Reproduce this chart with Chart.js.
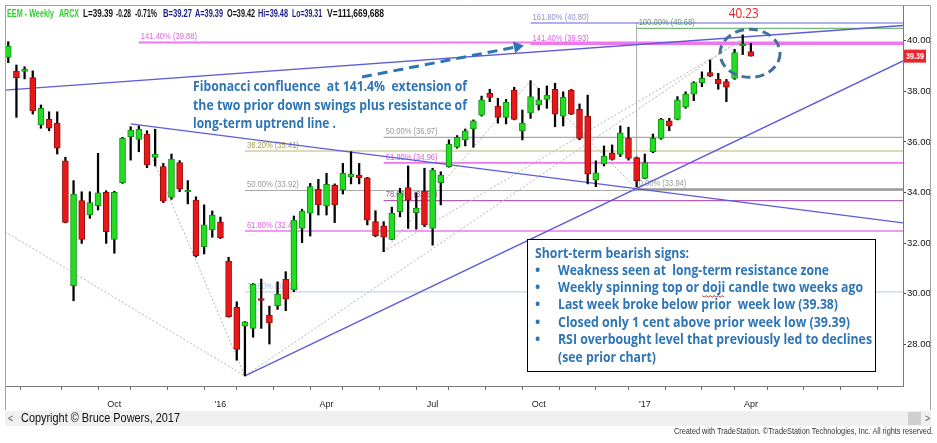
<!DOCTYPE html>
<html><head><meta charset="utf-8">
<script src="https://cdn.jsdelivr.net/npm/chart.js@4.4.1/dist/chart.umd.min.js"></script>
<style>html,body{margin:0;padding:0;background:#fff;overflow:hidden}#wrap{position:relative;width:937px;height:443px}</style>
</head><body><div id="wrap"><canvas id="c" width="937" height="443"></canvas></div>
<script>
// ---- DATA (weekly EEM candles, index 0 = week of 6 Jul 2015 ... 91 = week of 3 Apr 2017) ----
const opens  = [39.34,38.80,38.79,38.54,36.67,36.89,36.74,35.25,30.32,33.68, 33.11,33.48,34.01,32.15,34.39,36.21,36.10,36.31,35.39,35.02, 33.81,35.18,34.02,33.70,31.86,32.52,32.83,31.29,29.46,28.72, 28.63,29.78,29.16,29.53,30.57,30.15,32.58,33.18,34.13,33.47, 34.28,34.10,34.62,34.69,34.58,32.85,32.68,32.15,33.24,34.19, 33.20,34.06,32.58,34.39,35.02,35.79,36.08,36.51,37.06,37.92, 37.42,36.97,38.05,36.43,37.15,37.46,37.68,38.08,37.02,38.05, 37.29,37.02,34.49,35.13,35.57,35.51,36.14,35.38,34.56,35.61, 36.14,36.83,36.89,37.37,37.89,38.34,38.74,38.47,38.38,38.51, 39.80,39.57];
const highs  = [39.96,39.04,38.97,38.81,37.46,37.19,37.19,35.39,34.47,34.03, 34.03,35.55,34.07,34.05,36.18,36.60,36.63,36.44,36.50,35.15, 35.52,35.26,34.47,33.83,33.51,33.27,33.03,31.44,29.68,28.90, 30.40,30.58,29.51,30.47,30.87,33.07,33.34,34.36,34.52,34.76, 34.34,35.15,35.61,35.15,34.60,33.28,32.85,33.42,34.17,35.05, 33.99,34.96,34.96,34.82,36.08,36.25,36.51,36.87,37.81,38.08, 37.72,37.68,38.16,37.26,38.42,38.12,38.21,38.32,37.98,38.08, 37.50,37.85,35.25,35.84,35.88,36.63,36.58,35.40,35.52,36.31, 36.93,36.93,37.79,37.98,38.38,38.77,39.24,38.71,38.47,39.66, 40.23,39.90];
const lows   = [39.13,36.97,38.49,37.10,36.54,36.44,35.52,32.80,29.72,31.99, 32.98,33.31,31.99,31.60,34.36,35.28,35.61,34.98,35.05,33.60, 33.73,34.03,33.55,31.45,31.57,32.23,32.18,29.07,27.37,26.75, 28.28,28.63,28.01,29.38,29.33,30.08,32.02,32.28,33.11,33.11, 32.81,33.94,34.34,34.34,32.72,32.25,31.66,32.13,33.04,32.58, 32.55,32.65,31.92,33.51,35.00,35.75,35.84,35.79,37.02,37.59, 36.74,36.71,36.87,36.08,36.93,37.26,37.33,36.60,36.63,37.08, 36.08,34.34,34.23,35.05,35.28,35.42,35.28,34.23,34.54,35.57, 36.10,36.44,36.87,37.33,37.63,38.18,38.58,38.08,37.59,38.47, 39.45,39.39];
const closes = [39.79,38.54,38.84,37.23,37.33,36.54,35.75,32.82,33.94,32.15, 33.60,33.99,32.45,34.01,36.14,36.47,36.50,35.09,35.52,33.66, 35.32,34.13,34.06,31.49,32.72,33.11,32.20,29.09,27.80,28.89, 30.37,29.73,28.85,29.98,29.78,32.91,33.27,34.23,33.51,34.32, 33.51,34.76,34.73,34.58,32.91,32.29,32.23,33.18,33.99,33.70, 33.38,32.72,34.89,34.69,35.91,36.18,36.44,36.83,37.66,37.76, 36.97,37.57,36.89,36.74,37.79,37.66,37.85,37.10,37.76,37.10, 36.14,34.72,34.78,35.44,35.31,36.36,35.35,34.47,35.18,36.14, 36.89,36.63,37.66,37.89,38.34,38.51,38.60,38.29,38.16,39.53, 39.83,39.39];

const yTicks = [28,30,32,34,36,38,40];
const monthTicks = [4,9,13,17,22,26,30,35,39,43,48,52,56,61,65,70,74,78,83,87,91,95,100,104,109];
const quarterTicks = [13,26,39,52,65,78,91];
const quarterLabels = ["Oct","'16","Apr","Jul","Oct","'17","Apr"];

// Fibonacci levels (price value, start week index, label)
const fibLabels = ["141.40% (39.88)","141.40% (39.93)","161.80% (40.80)","100.00% (40.68)","50.00% (36.97)","38.20% (35.41)","61.80% (34.96)","50.00% (33.92)","0.00% (33.94)","78.60% (33.53)","61.80% (32.43)","78.60% (30.51)"];
const fibValues = [39.93,39.87,40.70,40.49,36.18,35.64,35.17,34.08,34.12,33.68,32.48,30.07];
const fibStarts = [16,64,64,77,46,29,46,29,77,46,29,29];

// Trend lines (week index / price end points)
const trendX0 = [-0.40, 15, 29];
const trendY0 = [38.05, 36.71, 26.75];
const trendX1 = [109.64, 109.64, 109.64];
const trendY1 = [40.60, 32.80, 39.20];

// Dotted swing lines
const dotX0 = [-0.40, 16, 46, 64, 29, 46];
const dotY0 = [32.45, 36.63, 31.66, 38.42, 26.75, 31.66];
const dotX1 = [29, 29, 64, 77, 90, 90];
const dotY1 = [26.75, 26.75, 38.42, 34.14, 40.10, 40.03];

// Fib extension anchor (vertical)
const extIdx = 77, extLow = 34.12, extHigh = 40.72;
const highMark = 40.23;   // annotated high
const lastPrice = 39.39;

// ---- STYLES ----
const X_MIN = -0.40, X_MAX = 109.64, Y_MIN = 26.352, Y_MAX = 41.411;
const fibLineColors = ['#ee77ee','#ee77ee','#6464d4','#55aa55','#aaaaaa','#b8b870','#ee77ee','#aaaaaa','#9a9a9a','#b060b0','#ee77ee','#c5d5ea'];
const fibTextColors = ['#e060e0','#e060e0','#9090c8','#5f9f5f','#999999','#a0a050','#e060e0','#999999','#9a9a9a','#a050a0','#e060e0','#b0c4e0'];
const fibWidths = [2,2,1.2,1,1.2,1.2,1.6,1.2,2.5,1.2,1.6,1.2];
const BLUE = '#2e75b6';

function txt(ctx, s, x, y, o) {
  ctx.save();
  ctx.font = o.font; ctx.fillStyle = o.color || '#000'; ctx.textBaseline = 'middle'; ctx.textAlign = 'left';
  const m = ctx.measureText(s).width;
  const sx = o.w ? o.w / m : (o.sx || 1);
  let x0 = x;
  if (o.align === 'center') x0 = x - m * sx / 2; else if (o.align === 'right') x0 = x - m * sx;
  ctx.translate(x0, y); ctx.scale(sx, 1); ctx.fillText(s, 0, 0);
  ctx.restore();
  return {x: x0, sx: sx, m: m};
}

const up = opens.map((o, i) => closes[i] >= o);
const datasets = [
  { type:'bar', data: opens.map((o,i)=>({x:i, y:[o, closes[i]]})),
    backgroundColor: up.map(u => u ? '#22dd22' : '#e81818'),
    borderColor: up.map(u => u ? '#139013' : '#9a0c0c'),
    borderWidth: 1, borderSkipped: false, barThickness: 6, minBarLength: 2, grouped: false, order: 0 },
  { type:'bar', data: opens.map((o,i)=>({x:i, y:[lows[i], highs[i]]})),
    backgroundColor: '#000', barThickness: 1.6, grouped: false, order: 1 }
];
fibValues.forEach((v, k) => datasets.push({ type:'line', data:[{x:fibStarts[k], y:v},{x:X_MAX, y:v}],
  borderColor: fibLineColors[k], borderWidth: fibWidths[k], pointRadius: 0, order: 5 }));
datasets.push({ type:'line', data:[{x:extIdx, y:extLow},{x:extIdx, y:extHigh}], borderColor:'#a8a8a8', borderWidth:1, pointRadius:0, order:5 });
dotX0.forEach((x0, k) => datasets.push({ type:'line', data:[{x:x0, y:dotY0[k]},{x:dotX1[k], y:dotY1[k]}],
  borderColor:'#b4b4b4', borderWidth:1, borderDash:[2,2], pointRadius:0, order:4 }));
trendX0.forEach((x0, k) => datasets.push({ type:'line', data:[{x:x0, y:trendY0[k]},{x:trendX1[k], y:trendY1[k]}],
  borderColor:'#5b5bdc', borderWidth:1.3, pointRadius:0, order:3 }));

const overlay = {
  id: 'overlay',
  beforeDatasetsDraw(chart) {
    const {ctx, scales:{x, y}} = chart;
    fibLabels.forEach((t, k) => {
      txt(ctx, t, x.getPixelForValue(fibStarts[k]) + 2, y.getPixelForValue(fibValues[k]) - 6,
        {font:'9.5px "Liberation Sans", Arial', color: fibTextColors[k], sx: 0.8});
    });
  },
  afterDraw(chart) {
    const {ctx, scales:{x, y}} = chart;
    // frame
    ctx.save();
    ctx.strokeStyle = '#a0a0a0'; ctx.lineWidth = 1;
    ctx.beginPath(); ctx.moveTo(5, 5.5); ctx.lineTo(930.5, 5.5); ctx.lineTo(930.5, 410);
    ctx.moveTo(5.5, 5); ctx.lineTo(5.5, 410); ctx.stroke();
    // bottom bar
    ctx.fillStyle = '#f0f0f0'; ctx.fillRect(5, 411, 926, 15);
    ctx.fillStyle = '#cfcfcf'; ctx.fillRect(908, 412, 13, 13);
    ctx.restore();
    txt(ctx, '<', 8, 418.5, {font:'11px "Liberation Sans"', color:'#555', sx:0.8});
    txt(ctx, '>', 925, 418.5, {font:'11px "Liberation Sans"', color:'#555', sx:0.8});
    txt(ctx, 'Copyright \u00a9 Bruce Powers, 2017', 21, 418.5, {font:'13px "Liberation Sans"', color:'#111', w:159});
    txt(ctx, 'Created with TradeStation. \u00a9TradeStation Technologies, Inc. All rights reserved.', 933, 432, {font:'9px "Liberation Sans"', color:'#333', w:259, align:'right'});

    // header
    const hf = 'bold 10px "Liberation Sans", Arial';
    const G = '#33cc33', K = '#111', N = '#1c1c8a';
    [[7,'EEM - Weekly',G,47],[59,'ARCX',G,20],[83,'L=39.39',K,30],[116,'-0.28',K,15],[135,'-0.71%',K,22],
     [163,'B=39.27',N,29],[195,'A=39.39',N,28],[227,'O=39.42',K,28],[258,'Hi=39.48',N,30],[292,'Lo=39.31',N,30],[327,'V=111,669,688',K,57]]
     .forEach(h => txt(ctx, h[1], h[0], 14, {font:hf, color:h[2], w:h[3]}));

    // price box
    const py = y.getPixelForValue(lastPrice);
    ctx.fillStyle = '#e8262b'; ctx.fillRect(904, py - 6.5, 22, 13);
    txt(ctx, lastPrice.toFixed(2), 906, py, {font:'bold 9px "Liberation Sans"', color:'#fff', w:18});

    // high annotation
    const hx = x.getPixelForValue(90) + 1;
    txt(ctx, highMark.toFixed(2), hx, 14, {font:'15px "Open Sans"', color:'#e8262b', w:30, align:'center'});

    // dashed ellipse
    ctx.save();
    ctx.strokeStyle = '#41719c'; ctx.lineWidth = 3; ctx.setLineDash([9,5]);
    ctx.beginPath(); ctx.ellipse(x.getPixelForValue(90.9), y.getPixelForValue(39.5), 30, 24, 0, 0, Math.PI*2); ctx.stroke();
    ctx.restore();

    // arrow
    ctx.save();
    ctx.strokeStyle = BLUE; ctx.fillStyle = BLUE; ctx.lineWidth = 3; ctx.setLineDash([10,6]);
    const ax0 = 362, ay0 = 77, ax1 = 516, ay1 = 47;
    ctx.beginPath(); ctx.moveTo(ax0, ay0); ctx.lineTo(ax1, ay1); ctx.stroke();
    ctx.setLineDash([]);
    const ang = Math.atan2(ay1 - ay0, ax1 - ax0);
    ctx.beginPath(); ctx.moveTo(ax1 + 8*Math.cos(ang), ay1 + 8*Math.sin(ang));
    ctx.lineTo(ax1 + 6*Math.cos(ang + Math.PI/2) - 2*Math.cos(ang), ay1 + 6*Math.sin(ang + Math.PI/2) - 2*Math.sin(ang));
    ctx.lineTo(ax1 + 6*Math.cos(ang - Math.PI/2) - 2*Math.cos(ang), ay1 + 6*Math.sin(ang - Math.PI/2) - 2*Math.sin(ang));
    ctx.closePath(); ctx.fill();
    ctx.restore();

    // Fibonacci note
    const bf = 'bold 15px "Open Sans", "Liberation Sans"';
    txt(ctx, 'Fibonacci confluence  at 141.4%  extension of', 193, 87, {font:bf, color:BLUE, w:274});
    txt(ctx, 'the two prior down swings plus resistance of', 193, 105.5, {font:bf, color:BLUE, w:274});
    txt(ctx, 'long-term uptrend line .', 193, 124, {font:bf, color:BLUE, w:143});

    // bearish box
    ctx.save();
    ctx.fillStyle = '#fff'; ctx.fillRect(527, 239, 349, 133);
    ctx.strokeStyle = '#000'; ctx.lineWidth = 1; ctx.strokeRect(527.5, 239.5, 348, 132);
    ctx.restore();
    const tf = 'bold 14px "Open Sans", "Liberation Sans"';
    txt(ctx, 'Short-term bearish signs:', 535, 254, {font:tf, color:BLUE, w:154});
    const lines = [
      ['Weakness seen at  long-term resistance zone', 271, true],
      ['Weekly spinning top or doji candle two weeks ago', 305, true],
      ['Last week broke below prior  week low (39.38)', 280, true],
      ['Closed only 1 cent above prior week low (39.39)', 292, true],
      ['RSI overbought level that previously led to declines', 314, true],
      ['(see prior chart)', 98, false]];
    const ly = [270.7, 288, 305.5, 323, 340.5, 358.3];
    lines.forEach((l, k) => {
      if (l[2]) txt(ctx, '\u2022', 535, ly[k], {font:tf, color:BLUE, sx:1});
      const r = txt(ctx, l[0], 558, ly[k], {font:tf, color:BLUE, w:l[1]});
      if (k === 1) {
        ctx.save(); ctx.font = tf;
        const a = r.x + ctx.measureText('Weekly spinning top or ').width * r.sx;
        const b = a + ctx.measureText('doji').width * r.sx;
        ctx.strokeStyle = '#e02020'; ctx.lineWidth = 1; ctx.beginPath();
        for (let xx = a, s = 0; xx <= b; xx += 2, s++) { const yy = ly[k] + 8 + (s % 2 ? 1.2 : -0.3); if (xx === a) ctx.moveTo(xx, yy); else ctx.lineTo(xx, yy); }
        ctx.stroke(); ctx.restore();
      }
    });
  }
};

new Chart(document.getElementById('c'), {
  type: 'bar',
  data: { datasets },
  options: {
    responsive: false, animation: false, devicePixelRatio: 1,
    layout: { padding: { left: 5, top: 5, right: 0, bottom: 0 } },
    plugins: { legend: { display: false }, tooltip: { enabled: false } },
    scales: {
      x: { type: 'linear', min: X_MIN, max: X_MAX, offset: false,
        afterBuildTicks: s => { s.ticks = monthTicks.map(v => ({ value: v })); },
        afterFit: s => { s.height = 57; s.paddingLeft = 0; s.paddingRight = 0; },
        ticks: { autoSkip: false, maxRotation: 0, minRotation: 0, padding: 9, color: '#222',
          font: { family: '"Liberation Sans Narrow", "Liberation Sans", Arial', size: 9 },
          callback: v => { const k = quarterTicks.indexOf(v); return k >= 0 ? quarterLabels[k] : ''; } },
        grid: { display: true, drawOnChartArea: false, drawTicks: true, tickLength: 4, color: '#666' },
        border: { display: true, color: '#777', dash: [6,2,2,2] } },
      y: { type: 'linear', position: 'right', min: Y_MIN, max: Y_MAX,
        afterBuildTicks: s => { s.ticks = yTicks.map(v => ({ value: v })); },
        afterFit: s => { s.width = 34; s.paddingTop = 0; s.paddingBottom = 0; },
        ticks: { padding: 1, color: '#111', font: { family: '"Liberation Sans Narrow", "Liberation Sans", Arial', size: 9.5 },
          callback: v => v.toFixed(2) },
        grid: { display: true, drawOnChartArea: false, drawTicks: true, tickLength: 3, color: '#444' },
        border: { display: true, color: '#777', dash: [5,2,1,2] } }
    }
  },
  plugins: [overlay]
});
</script></body></html>
